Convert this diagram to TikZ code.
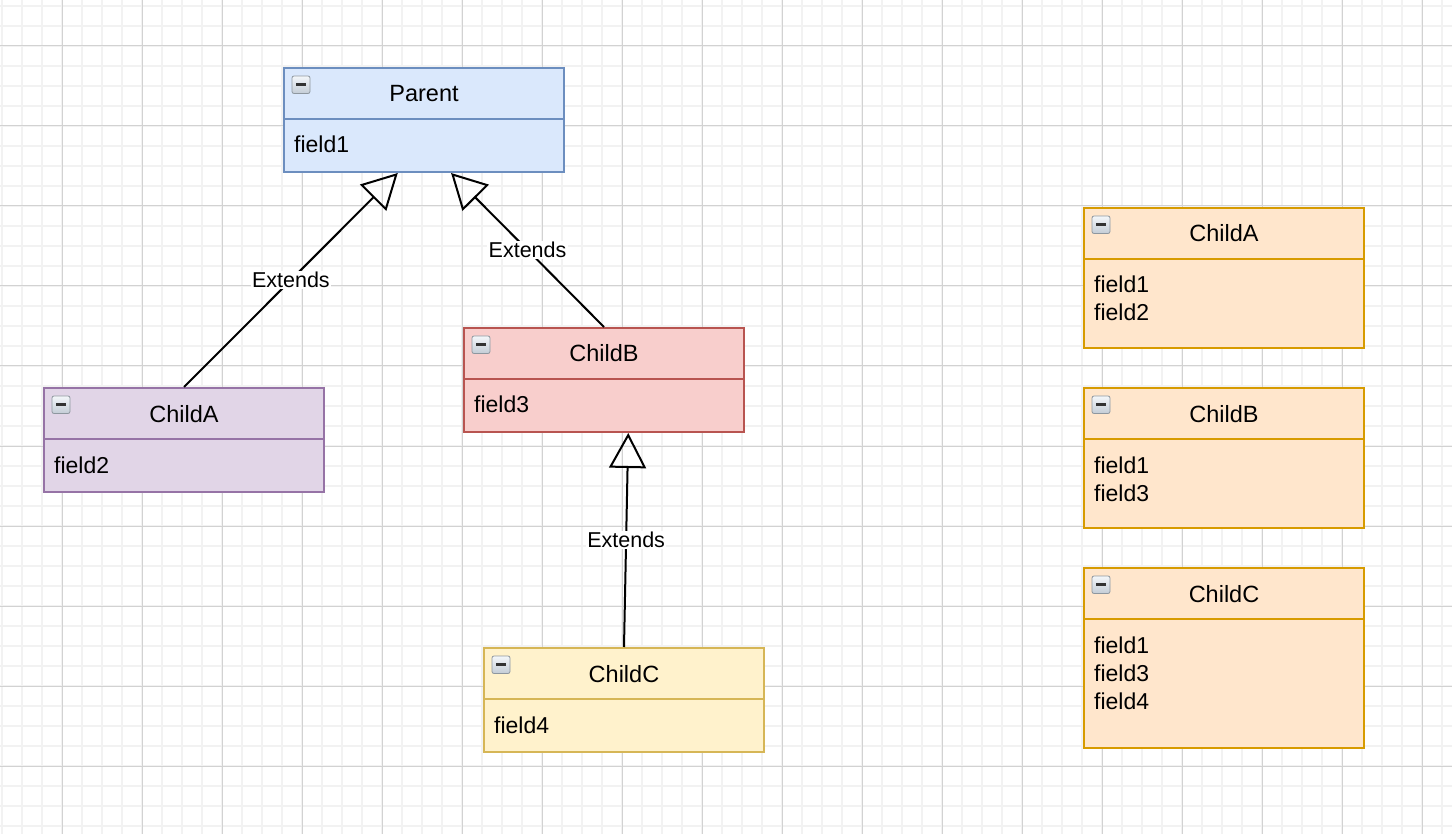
\documentclass[tikz,border=0pt]{standalone}
\usepackage{fontspec}
\setmainfont{Liberation Sans}
\usetikzlibrary{arrows.meta,calc}

% draw.io palette
\definecolor{blueFill}{HTML}{DAE8FC}\definecolor{blueLine}{HTML}{6C8EBF}
\definecolor{purpleFill}{HTML}{E1D5E7}\definecolor{purpleLine}{HTML}{9673A6}
\definecolor{redFill}{HTML}{F8CECC}\definecolor{redLine}{HTML}{B85450}
\definecolor{yellowFill}{HTML}{FFF2CC}\definecolor{yellowLine}{HTML}{D6B656}
\definecolor{orangeFill}{HTML}{FFE6CC}\definecolor{orangeLine}{HTML}{D79B00}
\definecolor{gridMinor}{HTML}{F2F2F2}\definecolor{gridMajor}{HTML}{D2D2D2}
\definecolor{iconTop}{HTML}{F4F7FA}\definecolor{iconBottom}{HTML}{C3CCD6}
\definecolor{iconLine}{HTML}{8E979F}

\tikzset{
  classbox/.style={rectangle, line width=2pt, minimum width=280pt, inner sep=0pt, anchor=north west},
  titletext/.style={inner sep=0pt, anchor=base, font=\fontsize{23.5}{28}\selectfont},
  fieldtext/.style={inner sep=0pt, anchor=base west, font=\fontsize{23}{28}\selectfont},
  extends/.style={line width=2pt, -{Triangle[open, length=35pt, width=37pt, line width=2pt]}},
  edgelabel/.style={fill=white, inner sep=1.5pt, font=\fontsize{21.5}{26}\selectfont},
}

% one class box: name, x, y, height, fill, stroke, title, list of fields
\newcommand{\umlclass}[8]{%
  \node[classbox, fill=#5, draw=#6, minimum height=#4pt] (#1) at (#2,#3) {};
  \draw[line width=2pt, draw=#6] ([yshift=-52pt]#1.north west) -- ([yshift=-52pt]#1.north east);
  \node[titletext] (#1-title) at ([yshift=-35pt]#1.north) {#7};
  \foreach \f [count=\i from 0] in {#8} {
    \node[fieldtext] (#1-field\i) at ([xshift=11pt, yshift=-86pt-28pt*\i]#1.north west) {\f};
  }
  \draw[rounded corners=2pt, draw=iconLine, line width=0.8pt, top color=iconTop, bottom color=iconBottom]
    ([xshift=9pt, yshift=-9pt]#1.north west) rectangle ([xshift=27pt, yshift=-26.5pt]#1.north west);
  \fill[black!80] ([xshift=13pt, yshift=-16.3pt]#1.north west) rectangle ([xshift=23pt, yshift=-19.3pt]#1.north west);
}

\begin{document}
\begin{tikzpicture}[x=1pt, y=-1pt]
  \useasboundingbox (0,0) rectangle (1452,834);
  \fill[white] (0,0) rectangle (1452,834);

  % background grid
  \foreach \gx in {2,22,...,1452} \draw[gridMinor, line width=1.6pt] (\gx,0) -- (\gx,834);
  \foreach \gy in {6,26,...,834} \draw[gridMinor, line width=1.6pt] (0,\gy) -- (1452,\gy);
  \foreach \gx in {62,142,...,1452} \draw[gridMajor, line width=1pt] (\gx,0) -- (\gx,834);
  \foreach \gy in {46,126,...,834} \draw[gridMajor, line width=1pt] (0,\gy) -- (1452,\gy);

  % inheritance hierarchy
  \umlclass{parent}{283}{67}{104}{blueFill}{blueLine}{Parent}{field1}
  \umlclass{childA}{43}{387}{104}{purpleFill}{purpleLine}{ChildA}{field2}
  \umlclass{childB}{463}{327}{104}{redFill}{redLine}{ChildB}{field3}
  \umlclass{childC}{483}{647}{104}{yellowFill}{yellowLine}{ChildC}{field4}

  % flattened classes
  \umlclass{flatA}{1083}{207}{140}{orangeFill}{orangeLine}{ChildA}{field1,field2}
  \umlclass{flatB}{1083}{387}{140}{orangeFill}{orangeLine}{ChildB}{field1,field3}
  \umlclass{flatC}{1083}{567}{180}{orangeFill}{orangeLine}{ChildC}{field1,field3,field4}

  % generalisation arrows
  \coordinate (parentA) at ($(parent.south west)!0.407!(parent.south east)$);
  \coordinate (parentB) at ($(parent.south west)!0.596!(parent.south east)$);
  \coordinate (childBC) at ($(childB.south west)!0.586!(childB.south east)$);
  \draw[extends] (childA.north) -- node[edgelabel] {Extends} (parentA);
  \draw[extends] (childB.north) -- node[edgelabel] {Extends} (parentB);
  \draw[extends] (childC.north) -- node[edgelabel] {Extends} (childBC);
\end{tikzpicture}
\end{document}
